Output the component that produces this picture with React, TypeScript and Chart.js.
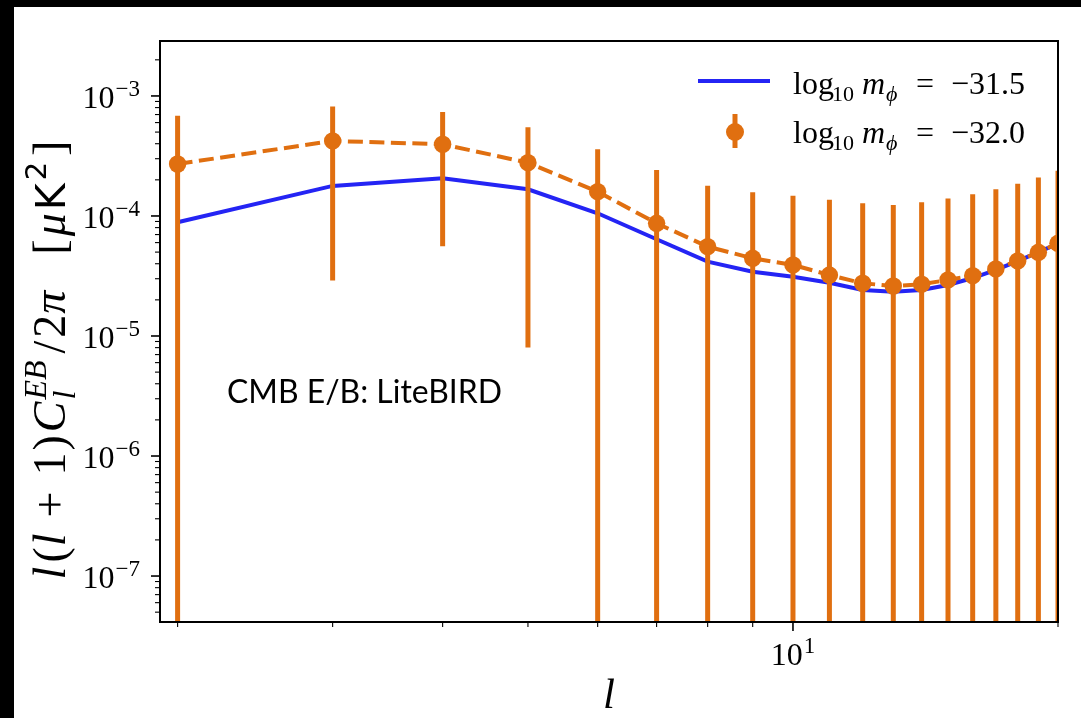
import React, { useEffect, useRef } from "react";
import { Chart, registerables } from "chart.js";

Chart.register(...registerables);

// ---------------- data ----------------
const ELL = [2, 3, 4, 5, 6, 7, 8, 9, 10, 11, 12, 13, 14, 15, 16, 17, 18, 19, 20];
const BLUE_VALUES = [
  8.86e-5, 1.78e-4, 2.06e-4, 1.67e-4, 1.053e-4, 6.4e-5, 4.16e-5, 3.43e-5, 3.12e-5, 2.78e-5,
  2.42e-5, 2.34e-5, 2.42e-5, 2.66e-5, 3.04e-5, 3.55e-5, 4.2e-5, 5.0e-5, 5.9e-5,
];
const ORANGE_VALUES = [
  2.71e-4, 4.22e-4, 3.96e-4, 2.78e-4, 1.594e-4, 8.69e-5, 5.55e-5, 4.44e-5, 3.91e-5, 3.22e-5,
  2.75e-5, 2.61e-5, 2.7e-5, 2.93e-5, 3.18e-5, 3.62e-5, 4.22e-5, 4.98e-5, 5.92e-5,
];
const ORANGE_ERRORS = [
  4.14e-4, 3.93e-4, 3.4e-4, 2.7e-4, 2.01e-4, 1.55e-4, 1.235e-4, 1.13e-4, 1.08e-4, 1.04e-4,
  1.0e-4, 0.974e-4, 1.03e-4, 1.107e-4, 1.2e-4, 1.31e-4, 1.43e-4, 1.59e-4, 1.79e-4,
];
const X_MIN = 1.91;
const X_MAX = 20;
const Y_MIN = 4.14e-8;
const Y_MAX = 2.87e-3;
const X_MAJOR_TICKS = [10];
const X_MAJOR_LABELS = [["10", "1"]];
const X_MINOR_TICKS = [2, 3, 4, 5, 6, 7, 8, 9, 20];
const Y_MAJOR_EXPONENTS = [-7, -6, -5, -4, -3];
const Y_MAJOR_LABELS = [["10", "−7"], ["10", "−6"], ["10", "−5"], ["10", "−4"], ["10", "−3"]];
const LEGEND_VALUES = ["−31.5", "−32.0"];
const ANNOTATION = "CMB E/B: LiteBIRD";

// ---------------- style ----------------
const BLUE = "#2424f4";
const ORANGE = "#e06f10";
const SERIF = '"Liberation Serif", "DejaVu Serif", serif';
const SANS = '"DejaVu Sans", sans-serif';
const f = (size: number, italic = false) => `${italic ? "italic " : ""}${size}px ${SERIF}`;

type Part = { t: string; font: string; dy?: number; gap?: number; noAdvance?: boolean };

function measureParts(ctx: CanvasRenderingContext2D, parts: Part[]) {
  let w = 0;
  for (const p of parts) {
    ctx.font = p.font;
    w += p.gap || 0;
    if (!p.noAdvance) w += ctx.measureText(p.t).width;
  }
  return w;
}

function drawParts(ctx: CanvasRenderingContext2D, parts: Part[], x: number, y: number) {
  let cx = x;
  for (const p of parts) {
    ctx.font = p.font;
    cx += p.gap || 0;
    ctx.fillText(p.t, cx, y + (p.dy || 0));
    if (!p.noAdvance) cx += ctx.measureText(p.t).width;
  }
}

const decorPlugin = {
  id: "decor",
  beforeDraw(chart: any) {
    const ctx = chart.ctx as CanvasRenderingContext2D;
    ctx.save();
    ctx.fillStyle = "#ffffff";
    ctx.fillRect(0, 0, chart.width, chart.height);
    ctx.fillStyle = "#000000";
    ctx.fillRect(0, 0, chart.width, 7);
    ctx.fillRect(0, 0, 14, chart.height);
    ctx.restore();
  },
  beforeDatasetDraw(chart: any, args: any) {
    if (args.index !== 1) return;
    const ctx = chart.ctx as CanvasRenderingContext2D;
    const xs = chart.scales.x;
    const ys = chart.scales.y;
    const a = chart.chartArea;
    ctx.save();
    ctx.beginPath();
    ctx.rect(a.left, a.top, a.right - a.left, a.bottom - a.top);
    ctx.clip();
    ctx.strokeStyle = ORANGE;
    ctx.lineWidth = 5;
    ctx.lineCap = "butt";
    for (let i = 0; i < ELL.length; i++) {
      const x = xs.getPixelForValue(ELL[i]);
      const v = ORANGE_VALUES[i];
      const e = ORANGE_ERRORS[i];
      const top = ys.getPixelForValue(v + e);
      const lo = v - e;
      const bottom = lo > 0 ? ys.getPixelForValue(lo) : a.bottom + 20;
      ctx.beginPath();
      ctx.moveTo(x, top);
      ctx.lineTo(x, bottom);
      ctx.stroke();
    }
    ctx.restore();
  },
  afterDraw(chart: any) {
    const ctx = chart.ctx as CanvasRenderingContext2D;
    const xs = chart.scales.x;
    const ys = chart.scales.y;
    const a = chart.chartArea;
    ctx.save();
    ctx.strokeStyle = "#000";
    ctx.fillStyle = "#000";
    // spines
    ctx.lineWidth = 2;
    ctx.strokeRect(a.left, a.top, a.right - a.left, a.bottom - a.top);

    // y ticks
    ctx.lineWidth = 1.6;
    for (const ex of Y_MAJOR_EXPONENTS) {
      const y = ys.getPixelForValue(Math.pow(10, ex));
      ctx.beginPath();
      ctx.moveTo(a.left, y);
      ctx.lineTo(a.left - 9, y);
      ctx.stroke();
    }
    ctx.lineWidth = 1.1;
    for (let ex = -9; ex <= -3; ex++) {
      for (let k = 2; k <= 9; k++) {
        const v = k * Math.pow(10, ex);
        if (v < Y_MIN || v > Y_MAX) continue;
        const y = ys.getPixelForValue(v);
        ctx.beginPath();
        ctx.moveTo(a.left, y);
        ctx.lineTo(a.left - 5, y);
        ctx.stroke();
      }
    }
    // x ticks
    ctx.lineWidth = 1.6;
    for (const t of X_MAJOR_TICKS) {
      const x = xs.getPixelForValue(t);
      ctx.beginPath();
      ctx.moveTo(x, a.bottom);
      ctx.lineTo(x, a.bottom + 9);
      ctx.stroke();
    }
    ctx.lineWidth = 1.1;
    for (const t of X_MINOR_TICKS) {
      const x = xs.getPixelForValue(t);
      ctx.beginPath();
      ctx.moveTo(x, a.bottom);
      ctx.lineTo(x, a.bottom + 5);
      ctx.stroke();
    }

    // y tick labels
    ctx.textBaseline = "alphabetic";
    ctx.textAlign = "left";
    Y_MAJOR_EXPONENTS.forEach((ex, i) => {
      const y = ys.getPixelForValue(Math.pow(10, ex));
      const parts: Part[] = [
        { t: Y_MAJOR_LABELS[i][0], font: f(32) },
        { t: Y_MAJOR_LABELS[i][1], font: f(23), dy: -12, gap: 1 },
      ];
      const w = measureParts(ctx, parts);
      drawParts(ctx, parts, a.left - 20 - w, y + 12);
    });
    // x tick labels
    X_MAJOR_TICKS.forEach((t, i) => {
      const x = xs.getPixelForValue(t);
      const parts: Part[] = [
        { t: X_MAJOR_LABELS[i][0], font: f(32) },
        { t: X_MAJOR_LABELS[i][1], font: f(23), dy: -12, gap: 1 },
      ];
      const w = measureParts(ctx, parts);
      drawParts(ctx, parts, x - w / 2, a.bottom + 43);
    });

    // x axis label
    ctx.font = f(43, true);
    ctx.textAlign = "center";
    ctx.fillText("l", (a.left + a.right) / 2, 708);
    ctx.textAlign = "left";

    // y axis label (rotated)
    const yl: Part[] = [
      { t: "l", font: f(46, true) },
      { t: "(", font: f(46), gap: 4 },
      { t: "l", font: f(46, true), gap: 1 },
      { t: "+", font: f(46), gap: 16 },
      { t: "1", font: f(46), gap: 16 },
      { t: ")", font: f(46), gap: 2 },
      { t: "C", font: f(46, true), gap: 3 },
      { t: "l", font: f(32, true), dy: 10, noAdvance: true, gap: 2 },
      { t: "EB", font: f(32, true), dy: -19 },
      { t: "/", font: f(46), gap: 7 },
      { t: "2", font: f(46), gap: 3 },
      { t: "π", font: f(46, true), gap: 1 },
      { t: "[", font: f(46), gap: 36 },
      { t: "μ", font: f(46, true), gap: 3 },
      { t: "K", font: `41px ${SANS}`, gap: 3 },
      { t: "2", font: `29px ${SANS}`, dy: -19, gap: 3 },
      { t: "]", font: f(46), gap: 6 },
    ];
    const ylw = measureParts(ctx, yl);
    ctx.save();
    ctx.translate(65, 360 + ylw / 2);
    ctx.rotate(-Math.PI / 2);
    drawParts(ctx, yl, 0, 0);
    ctx.restore();

    // legend
    const lx = 698;
    ctx.strokeStyle = BLUE;
    ctx.lineWidth = 4;
    ctx.beginPath();
    ctx.moveTo(lx, 81);
    ctx.lineTo(lx + 72, 81);
    ctx.stroke();
    ctx.strokeStyle = ORANGE;
    ctx.fillStyle = ORANGE;
    ctx.lineWidth = 5;
    ctx.beginPath();
    ctx.moveTo(lx + 37, 114);
    ctx.lineTo(lx + 37, 148);
    ctx.stroke();
    ctx.beginPath();
    ctx.arc(lx + 37, 132, 9, 0, Math.PI * 2);
    ctx.fill();

    ctx.fillStyle = "#000";
    LEGEND_VALUES.forEach((val, i) => {
      const base = 94 + i * 49;
      const tx = 793;
      ctx.font = f(32);
      ctx.fillText("log", tx, base);
      ctx.font = f(22);
      ctx.fillText("10", tx + 39, base + 7);
      ctx.font = f(32, true);
      ctx.fillText("m", tx + 69, base);
      ctx.font = f(22, true);
      ctx.fillText("ϕ", tx + 93, base + 7);
      ctx.font = f(32);
      ctx.fillText("=", tx + 123, base);
      ctx.fillText(val, tx + 158, base);
    });

    // annotation
    let size = 26;
    ctx.font = `${size}px Lato, "Open Sans", sans-serif`;
    const mw = ctx.measureText(ANNOTATION).width;
    size = (size * 275) / mw;
    ctx.font = `${size}px Lato, "Open Sans", sans-serif`;
    ctx.fillText(ANNOTATION, 227, 403);

    ctx.restore();
  },
};

export default function App() {
  const ref = useRef<HTMLCanvasElement>(null);
  useEffect(() => {
    if (!ref.current) return;
    const chart = new Chart(ref.current, {
      type: "line",
      data: {
        datasets: [
          {
            label: "log10 m_phi = -31.5",
            data: ELL.map((l, i) => ({ x: l, y: BLUE_VALUES[i] })),
            borderColor: BLUE,
            borderWidth: 4,
            pointRadius: 0,
            tension: 0,
            order: 1,
            clip: 0,
          } as any,
          {
            label: "log10 m_phi = -32.0",
            data: ELL.map((l, i) => ({ x: l, y: ORANGE_VALUES[i] })),
            borderColor: ORANGE,
            backgroundColor: ORANGE,
            borderWidth: 4,
            borderDash: [15, 6.5],
            pointRadius: 8.7,
            pointHoverRadius: 8.7,
            pointBorderWidth: 0,
            pointBackgroundColor: ORANGE,
            tension: 0,
            order: 0,
            clip: 0,
          } as any,
        ],
      },
      options: {
        animation: false,
        responsive: false,
        events: [],
        layout: { padding: { left: 160, top: 41, right: 23, bottom: 96 } },
        plugins: { legend: { display: false }, tooltip: { enabled: false } },
        scales: {
          x: { type: "logarithmic", min: X_MIN, max: X_MAX, display: false, bounds: "data" },
          y: { type: "logarithmic", min: Y_MIN, max: Y_MAX, display: false, bounds: "data" },
        },
      },
      plugins: [decorPlugin],
    });
    return () => chart.destroy();
  }, []);
  return (
    <div style={{ position: "fixed", left: 0, top: 0, width: 1081, height: 718 }}>
      <canvas ref={ref} width={1081} height={718} style={{ display: "block" }} />
    </div>
  );
}
